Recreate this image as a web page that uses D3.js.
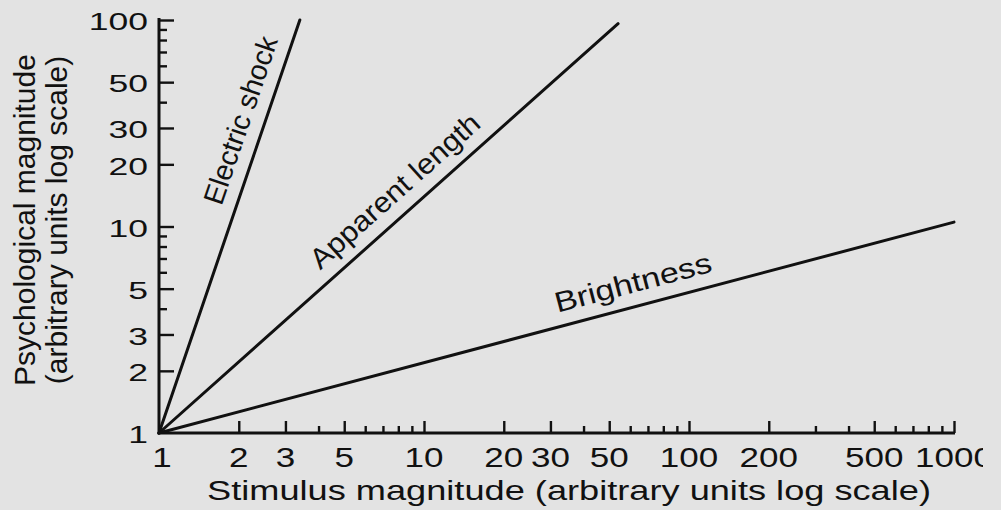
<!DOCTYPE html>
<html>
<head>
<meta charset="utf-8">
<script src="https://cdn.jsdelivr.net/npm/d3@7"></script>
<style>
  html, body { margin: 0; padding: 0; background: #e3e3e3; }
  svg { display: block; }
  text { font-family: "Liberation Sans", Arial, Helvetica, sans-serif; fill: #111; }
</style>
</head>
<body>
<svg id="chart" width="1001" height="510"></svg>
<script>
// Stevens' power law: psychological vs stimulus magnitude, log-log axes
const stimulusTicks = [1, 2, 3, 5, 10, 20, 30, 50, 100, 200, 500, 1000];
const stimulusMinor = [4, 6, 7, 8, 9, 40, 60, 70, 80, 90, 300, 400, 600, 700, 800, 900];
const psychTicks = [1, 2, 3, 5, 10, 20, 30, 50, 100];
const psychMinor = [4, 6, 7, 8, 9, 40, 60, 70, 80, 90];

const seriesNames = ["Electric shock", "Apparent length", "Brightness"];
// [stimulus, psychological magnitude] end points of each straight line
const electricShock = [[1, 1], [3.4, 100]];
const apparentLength = [[1, 1], [54, 96]];
const brightness = [[1, 1], [1000, 10.5]];
// stimulus value at which each line's label begins
const labelStart = [1.93, 4.4, 32.9];

const xTitle = "Stimulus magnitude (arbitrary units log scale)";
const yTitle = ["Psychological magnitude", "(arbitrary units log scale)"];

const svg = d3.select("#chart");
const ink = "#111";

const x = d3.scaleLog().domain([1, 1000]).range([159, 954]);
const y = d3.scaleLog().domain([1, 100]).range([433, 20]);

// tick marks (pointing into the plot)
function tickGroup(axis, transform) {
  const g = svg.append("g").attr("transform", transform).call(axis);
  g.select(".domain").remove();
  g.selectAll(".tick line").attr("stroke", ink).attr("stroke-width", 2.4);
  g.selectAll(".tick text").remove();
  return g;
}
tickGroup(d3.axisBottom(x).tickValues(stimulusTicks.slice(1)).tickSize(-12).tickFormat(""), "translate(0,433)");
tickGroup(d3.axisBottom(x).tickValues(stimulusMinor).tickSize(-7).tickFormat(""), "translate(0,433)");
tickGroup(d3.axisLeft(y).tickValues(psychTicks.slice(1)).tickSize(-15).tickFormat(""), "translate(159,0)");
tickGroup(d3.axisLeft(y).tickValues(psychMinor).tickSize(-8).tickFormat(""), "translate(159,0)");

// axis lines
svg.append("path")
  .attr("d", d3.line()([[x(1), y(100) - 2], [x(1), y(1)], [x(1000) + 1, y(1)]]))
  .attr("fill", "none").attr("stroke", ink).attr("stroke-width", 3);

// tick labels
svg.append("defs").append("clipPath").attr("id", "xlabClip")
  .append("rect").attr("x", 0).attr("y", 0).attr("width", 983).attr("height", 510);

svg.append("g").attr("clip-path", "url(#xlabClip)")
  .selectAll("text").data(stimulusTicks).join("text")
  .attr("transform", d => `translate(${x(d) + (d === 1 ? 3 : 0)},467) scale(1.25,1)`)
  .attr("text-anchor", "middle")
  .style("font-size", "28px")
  .text(d => d);

svg.append("g")
  .selectAll("text").data(psychTicks).join("text")
  .attr("transform", d => `translate(148,${y(d)}) scale(1.45,1)`)
  .attr("text-anchor", "end")
  .attr("dy", "0.42em")
  .style("font-size", "24.5px")
  .text(d => d);

// axis titles
svg.append("text")
  .attr("transform", "translate(569,500) scale(1.27,1)")
  .attr("text-anchor", "middle")
  .style("font-size", "28.5px")
  .text(xTitle);

svg.append("g").selectAll("text").data(yTitle).join("text")
  .attr("transform", (d, i) => `translate(${35 + i * 32},220) rotate(-90)`)
  .attr("text-anchor", "middle")
  .style("font-size", "30px")
  .text(d => d);

// power-function lines
const lines = [electricShock, apparentLength, brightness];
const lineGen = d3.line().x(d => x(d[0])).y(d => y(d[1]));
svg.append("g").selectAll("path").data(lines).join("path")
  .attr("d", lineGen)
  .attr("fill", "none").attr("stroke", ink).attr("stroke-width", 3)
  .attr("stroke-linecap", "round");

// labels laid along each line, widened along the reading direction
const widen = [1.0, 1.08, 1.2], offset = 14;
lines.forEach((pts, i) => {
  const [[x0, y0], [x1, y1]] = pts;
  const k = Math.log(y1 / y0) / Math.log(x1 / x0);
  const s = labelStart[i];
  const v = y0 * Math.pow(s / x0, k);
  const dx = x(x1) - x(x0), dy = y(y1) - y(y0);
  const len = Math.hypot(dx, dy);
  const ux = dx / len, uy = dy / len;
  const px = x(s) + uy * offset, py = y(v) - ux * offset;
  const ang = Math.atan2(dy, dx) * 180 / Math.PI;
  svg.append("text")
    .attr("transform", `translate(${px},${py}) rotate(${ang}) scale(${widen[i]},1)`)
    .style("font-size", "28.5px")
    .text(seriesNames[i]);
});
</script>
</body>
</html>
